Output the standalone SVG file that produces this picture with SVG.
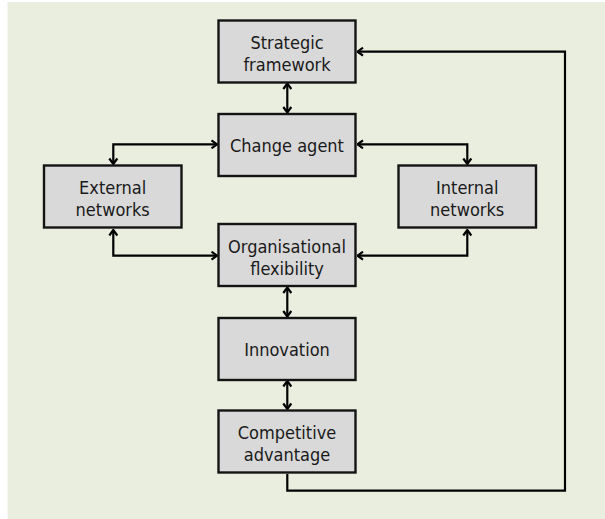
<svg xmlns="http://www.w3.org/2000/svg" width="605" height="519" viewBox="0 0 605 519">
  <style>
    .box { fill: #d9d9d9; stroke: #141414; stroke-width: 2.4; }
    .lbl { font-family: "DejaVu Sans Condensed", "DejaVu Sans", sans-serif; font-size: 18px; fill: #1a1a1a; text-anchor: middle; }
    .link { fill: none; stroke: #000; stroke-width: 2.2; }
    .both { marker-start: url(#chev); marker-end: url(#chev); }
    .one { marker-end: url(#chev); }
  </style>
  <defs>
    <!-- open chevron head, reused at both ends of two-way links -->
    <marker id="chev" viewBox="0 0 10 10" refX="9" refY="5" markerUnits="userSpaceOnUse" markerWidth="10" markerHeight="10" orient="auto-start-reverse">
      <path d="M3.5,1 L9,5 L3.5,9" fill="none" stroke="#000" stroke-width="2.2"/>
    </marker>
  </defs>

  <!-- backdrop panel -->
  <rect x="7.5" y="2" width="597.5" height="517" fill="#eaeedf"/>

  <!-- connectors -->
  <g id="connectors">
    <path class="link both" d="M287.3,83.5 V112.5"/>
    <path class="link both" d="M217,144.3 H113.3 V164"/>
    <path class="link both" d="M357.5,144.3 H467.3 V164"/>
    <path class="link both" d="M113.3,230 V255.7 H217"/>
    <path class="link both" d="M467.3,230 V255.7 H357.5"/>
    <path class="link both" d="M287.3,287.5 V316.5"/>
    <path class="link both" d="M287.3,381 V409"/>
    <path class="link one" d="M287.3,474 V490.7 H565 V51.7 H357.5"/>
  </g>

  <g id="strategic-framework">
    <rect class="box" x="218.5" y="20.5" width="137" height="62"/>
    <text class="lbl" x="287" y="48.5">Strategic</text>
    <text class="lbl" x="287" y="70.5">framework</text>
  </g>

  <g id="change-agent">
    <rect class="box" x="218.5" y="114" width="137" height="62"/>
    <text class="lbl" x="287" y="152">Change agent</text>
  </g>

  <g id="external-networks">
    <rect class="box" x="44" y="165.5" width="137.5" height="62"/>
    <text class="lbl" x="112.7" y="194">External</text>
    <text class="lbl" x="112.7" y="216">networks</text>
  </g>

  <g id="internal-networks">
    <rect class="box" x="398.5" y="165.5" width="137.5" height="62"/>
    <text class="lbl" x="467.2" y="194">Internal</text>
    <text class="lbl" x="467.2" y="216">networks</text>
  </g>

  <g id="organisational-flexibility">
    <rect class="box" x="218.5" y="224" width="137" height="62"/>
    <text class="lbl" x="287" y="252.5">Organisational</text>
    <text class="lbl" x="287" y="274.5">flexibility</text>
  </g>

  <g id="innovation">
    <rect class="box" x="218.5" y="318" width="137" height="62"/>
    <text class="lbl" x="287" y="356">Innovation</text>
  </g>

  <g id="competitive-advantage">
    <rect class="box" x="218.5" y="410.5" width="137" height="62"/>
    <text class="lbl" x="287" y="439">Competitive</text>
    <text class="lbl" x="287" y="460.5">advantage</text>
  </g>
</svg>
